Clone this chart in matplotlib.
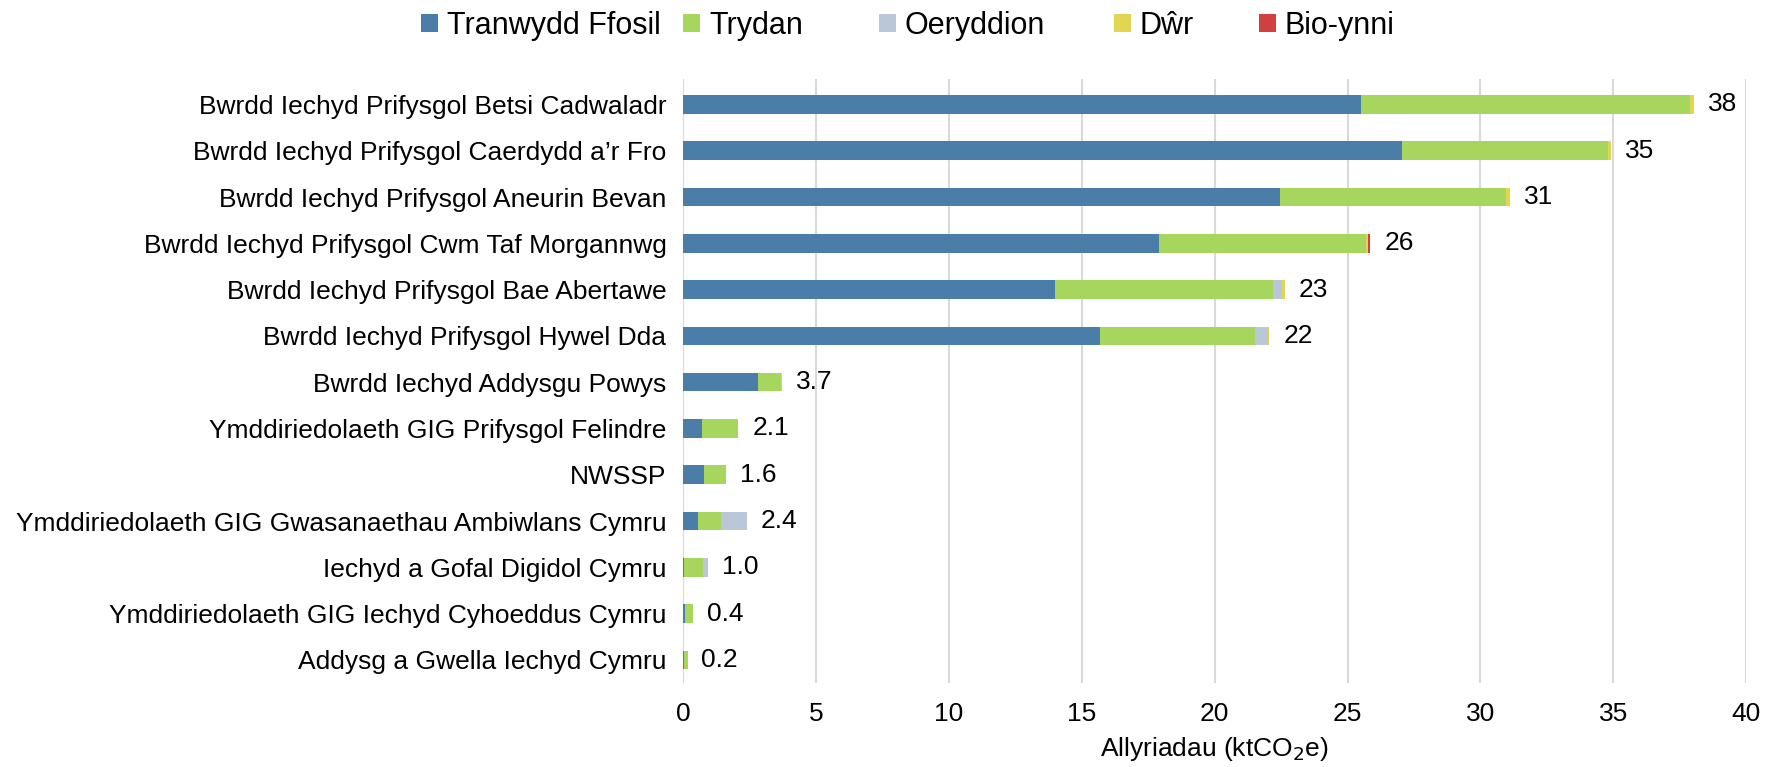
import matplotlib
matplotlib.use("Agg")
import matplotlib.pyplot as plt
from matplotlib.patches import Patch
import numpy as np

plt.rcParams['font.family'] = ['Liberation Sans', 'DejaVu Sans']

categories = [
    "Bwrdd Iechyd Prifysgol Betsi Cadwaladr",
    "Bwrdd Iechyd Prifysgol Caerdydd a\u2019r Fro",
    "Bwrdd Iechyd Prifysgol Aneurin Bevan",
    "Bwrdd Iechyd Prifysgol Cwm Taf Morgannwg",
    "Bwrdd Iechyd Prifysgol Bae Abertawe",
    "Bwrdd Iechyd Prifysgol Hywel Dda",
    "Bwrdd Iechyd Addysgu Powys",
    "Ymddiriedolaeth GIG Prifysgol Felindre",
    "NWSSP",
    "Ymddiriedolaeth GIG Gwasanaethau Ambiwlans Cymru",
    "Iechyd a Gofal Digidol Cymru",
    "Ymddiriedolaeth GIG Iechyd Cyhoeddus Cymru",
    "Addysg a Gwella Iechyd Cymru",
]
series_names = ["Tranwydd Ffosil", "Trydan", "Oeryddion", "D\u0175r", "Bio-ynni"]
tranwydd_ffosil = [25.5, 27.05, 22.45, 17.9, 14.0, 15.7, 2.82, 0.73, 0.80, 0.58, 0.02, 0.06, 0.03]
trydan          = [12.4, 7.75, 8.5, 7.8, 8.2, 5.8, 0.88, 1.33, 0.82, 0.85, 0.74, 0.30, 0.14]
oeryddion       = [0.0, 0.0, 0.0, 0.0, 0.35, 0.5, 0.0, 0.0, 0.0, 0.97, 0.19, 0.0, 0.0]
dwr             = [0.15, 0.1, 0.15, 0.08, 0.1, 0.06, 0.03, 0.02, 0.01, 0.01, 0.0, 0.0, 0.0]
bio_ynni        = [0.0, 0.0, 0.0, 0.08, 0.0, 0.0, 0.0, 0.0, 0.0, 0.0, 0.0, 0.0, 0.0]
total_labels = ["38", "35", "31", "26", "23", "22", "3.7", "2.1", "1.6", "2.4", "1.0", "0.4", "0.2"]
xticks = [0, 5, 10, 15, 20, 25, 30, 35, 40]

colors = ["#4a7ea8", "#a6d65e", "#bac7d9", "#e2d552", "#d13f3f"]

fig = plt.figure(figsize=(17.71, 7.67), dpi=100)
ax = fig.add_axes([0.3857, 0.1095, 0.6003, 0.7875])

y = np.arange(len(categories))
left = np.zeros(len(categories))
for name, vals, c in zip(series_names, [tranwydd_ffosil, trydan, oeryddion, dwr, bio_ynni], colors):
    vals = np.array(vals)
    ax.barh(y, vals, left=left, height=0.4, color=c, label=name, zorder=3)
    left = left + vals

for yi, tot, lab in zip(y, left, total_labels):
    ax.annotate(lab, xy=(tot, yi), xytext=(10, 0), textcoords='offset points',
                va='center', ha='left', fontsize=19)

ax.set_ylim(len(categories) - 0.5, -0.55)
ax.set_xlim(0, 40)
ax.set_yticks(y)
ax.set_yticklabels(categories, fontsize=19)
ax.set_xticks(xticks)
ax.set_xticklabels([str(t) for t in xticks], fontsize=19)
ax.tick_params(axis='both', length=0)
ax.tick_params(axis='x', pad=14)
ax.tick_params(axis='y', pad=12)
for s in ax.spines.values():
    s.set_visible(False)
ax.grid(axis='x', color='#d9d9d9', linewidth=1.5, zorder=0)
ax.set_axisbelow(True)
ax.set_xlabel("Allyriadau (ktCO$_2$e)", fontsize=19, labelpad=6)

legend_x = [0.2377, 0.3857, 0.4963, 0.6290, 0.7109]
for name, c, lx in zip(series_names, colors, legend_x):
    fig.legend(handles=[Patch(facecolor=c)], labels=[name], loc='center left',
               bbox_to_anchor=(lx, 0.966), frameon=False, fontsize=22,
               handlelength=0.55, handleheight=0.55, handletextpad=0.3,
               borderpad=0, borderaxespad=0)

fig.savefig("out.png", dpi=100)
